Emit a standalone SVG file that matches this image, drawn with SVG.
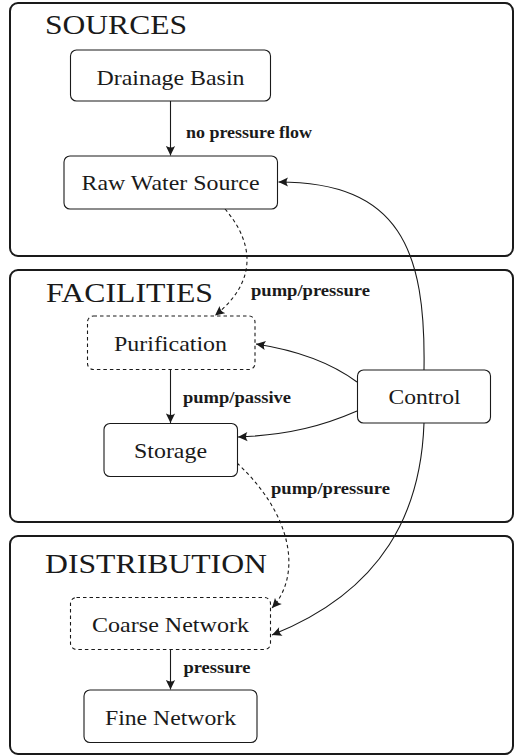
<svg xmlns="http://www.w3.org/2000/svg" width="514" height="755" viewBox="0 0 514 755">
<style>
.cont{fill:none;stroke:#1a1a1a;stroke-width:2}
.node{fill:#fff;stroke:#1a1a1a;stroke-width:1.1}
.dash{stroke-dasharray:3.5,3}
.title{font-family:"Liberation Serif",serif;font-size:28px;fill:#1a1a1a}
.nt{font-family:"Liberation Serif",serif;font-size:21px;fill:#1a1a1a;text-anchor:middle}
.lbl{font-family:"Liberation Serif",serif;font-size:16px;font-weight:bold;fill:#1a1a1a}
.edge{fill:none;stroke:#1a1a1a;stroke-width:1.1;marker-end:url(#ah)}
</style>
<defs>
<marker id="ah" viewBox="-10 -5 11 10" refX="0" refY="0" markerWidth="11" markerHeight="10" markerUnits="userSpaceOnUse" orient="auto">
<path d="M0,0 L-9.5,-4.6 Q-6.5,0 -9.5,4.6 Z" fill="#1a1a1a" stroke="none"/>
</marker>
</defs>
<rect width="514" height="755" fill="#fff"/>
<g id="sources">
<rect class="cont" x="10" y="3" width="503" height="253" rx="8"/>
<text class="title" x="45" y="34" textLength="142" lengthAdjust="spacingAndGlyphs">SOURCES</text>
</g>
<g id="facilities">
<rect class="cont" x="10" y="270" width="503" height="252" rx="8"/>
<text class="title" x="46" y="301.5" textLength="167" lengthAdjust="spacingAndGlyphs">FACILITIES</text>
</g>
<g id="distribution">
<rect class="cont" x="10" y="536" width="503" height="218" rx="8"/>
<text class="title" x="45" y="573" textLength="222" lengthAdjust="spacingAndGlyphs">DISTRIBUTION</text>
</g>
<g id="edges">
<path class="edge" d="M170.5,101 L170.5,155.5"/>
<path class="edge dash" d="M225,209 C250,238 262,278 215,315.5"/>
<path class="edge" d="M424,370 C426,250 400,182 278.5,182"/>
<path class="edge" d="M170.5,369.5 L170.5,423"/>
<path class="edge" d="M357,382 C330,362 295,350 256,344"/>
<path class="edge" d="M357,411 C325,425 290,435 238,437"/>
<path class="edge dash" d="M237,463 C293,515 302,575 272,608"/>
<path class="edge" d="M424,423 C421,510 385,590 272,635"/>
<path class="edge" d="M170.5,649.5 L170.5,689.5"/>
<text class="lbl" x="186" y="138" textLength="126" lengthAdjust="spacingAndGlyphs">no pressure flow</text>
<text class="lbl" x="251" y="295.5" textLength="119" lengthAdjust="spacingAndGlyphs">pump/pressure</text>
<text class="lbl" x="183" y="402.5" textLength="108" lengthAdjust="spacingAndGlyphs">pump/passive</text>
<text class="lbl" x="271" y="494" textLength="119" lengthAdjust="spacingAndGlyphs">pump/pressure</text>
<text class="lbl" x="183.5" y="673" textLength="67" lengthAdjust="spacingAndGlyphs">pressure</text>
</g>
<g id="drainage-basin">
<rect class="node" x="70.5" y="50" width="200" height="51" rx="6"/>
<text class="nt" x="170.5" y="85" textLength="148" lengthAdjust="spacingAndGlyphs">Drainage Basin</text>
</g>
<g id="raw-water-source">
<rect class="node" x="64" y="156" width="213.5" height="53" rx="6"/>
<text class="nt" x="170.5" y="189.5" textLength="178" lengthAdjust="spacingAndGlyphs">Raw Water Source</text>
</g>
<g id="purification">
<rect class="node dash" x="87.5" y="316" width="167.5" height="53.5" rx="6"/>
<text class="nt" x="170.5" y="350.5" textLength="113" lengthAdjust="spacingAndGlyphs">Purification</text>
</g>
<g id="storage">
<rect class="node" x="104" y="423.5" width="133.5" height="53" rx="6"/>
<text class="nt" x="170.5" y="458" textLength="73" lengthAdjust="spacingAndGlyphs">Storage</text>
</g>
<g id="control">
<rect class="node" x="357.5" y="370" width="133" height="53" rx="6"/>
<text class="nt" x="424.5" y="404" textLength="72" lengthAdjust="spacingAndGlyphs">Control</text>
</g>
<g id="coarse-network">
<rect class="node dash" x="70.5" y="597.5" width="200" height="52" rx="6"/>
<text class="nt" x="170.5" y="631.5" textLength="157" lengthAdjust="spacingAndGlyphs">Coarse Network</text>
</g>
<g id="fine-network">
<rect class="node" x="84" y="690" width="173" height="52.5" rx="6"/>
<text class="nt" x="170.5" y="725" textLength="131" lengthAdjust="spacingAndGlyphs">Fine Network</text>
</g>
</svg>
